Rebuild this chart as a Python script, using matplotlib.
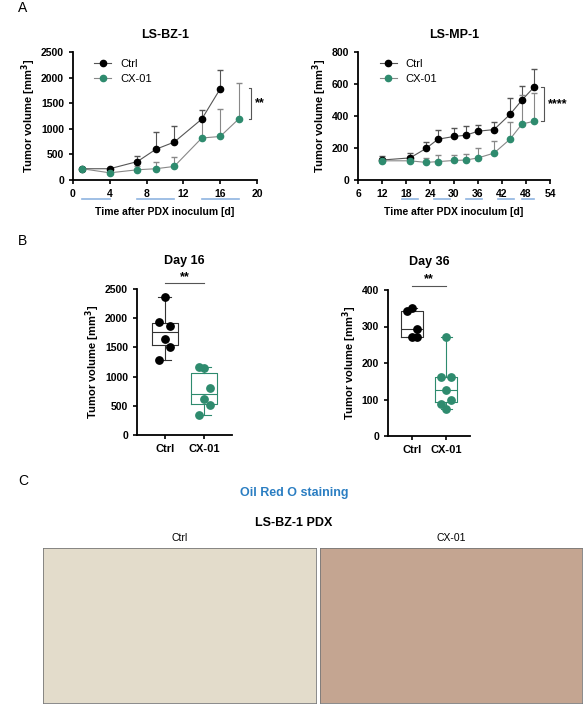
import matplotlib
matplotlib.use("Agg")
import matplotlib.pyplot as plt
import numpy as np
from matplotlib.transforms import blended_transform_factory as btf
from matplotlib.lines import Line2D

plt.rcParams['font.family'] = ['Liberation Sans', 'DejaVu Sans']
GREEN = '#2e8b6e'

# Panel A left (LS-BZ-1)
bz_days_ctrl = [1, 4, 7, 9, 11, 14, 16]
bz_ctrl = [220, 220, 360, 600, 740, 1190, 1780]
bz_ctrl_err = [0, 0, 100, 330, 310, 180, 370]
bz_days_cx = [1, 4, 7, 9, 11, 14, 16, 18]
bz_cx = [220, 140, 200, 220, 265, 820, 850, 1190]
bz_cx_err = [0, 60, 80, 130, 180, 390, 530, 710]
bz_treat = [(1, 4), (7, 11), (14, 18)]

# Panel A right (LS-MP-1)
mp_days = [12, 19, 23, 26, 30, 33, 36, 40, 44, 47, 50]
mp_ctrl = [125, 138, 197, 255, 272, 280, 305, 315, 410, 500, 580]
mp_ctrl_err = [25, 30, 40, 60, 55, 55, 40, 50, 100, 90, 115]
mp_cx = [120, 120, 110, 115, 122, 125, 138, 168, 255, 350, 367]
mp_cx_err = [20, 30, 30, 40, 35, 40, 65, 75, 105, 180, 175]
mp_treat = [(17, 21), (25, 29), (33, 37), (41, 45), (47, 50)]

# Panel B
d16_ctrl = [2360, 1940, 1870, 1650, 1510, 1290]
d16_cx = [1150, 1170, 800, 610, 510, 350]
d36_ctrl = [352, 342, 293, 270, 270]
d36_cx = [270, 162, 162, 125, 100, 88, 75]
groups = ['Ctrl', 'CX-01']

W, H = 588, 709
fig = plt.figure(figsize=(W/100, H/100), dpi=100)

def ax_px(x0, y0, x1, y1):
    return fig.add_axes([x0/W, 1-y1/H, (x1-x0)/W, (y1-y0)/H])

def style(ax):
    for s in ['top', 'right']:
        ax.spines[s].set_visible(False)
    for s in ['left', 'bottom']:
        ax.spines[s].set_linewidth(1.3)
    ax.tick_params(labelsize=7.5, width=1.2, length=3)
    for l in ax.get_xticklabels() + ax.get_yticklabels():
        l.set_fontweight('bold')

def line_panel(ax, dc, c, ce, dx, x, xe, treat, xlim, xticks, ylim, yticks, title, star, sy):
    ax.errorbar(dc, c, yerr=[np.zeros(len(ce)), ce], color='#555555', lw=0.8, capsize=2.5, elinewidth=0.8,
                marker='o', mfc='black', mec='black', ms=4.5, zorder=3)
    ax.errorbar(dx, x, yerr=[np.zeros(len(xe)), xe], color='#888888', lw=0.8, capsize=2.5, elinewidth=0.8,
                marker='o', mfc=GREEN, mec=GREEN, ms=4.5, zorder=3)
    ax.set_xlim(*xlim); ax.set_xticks(xticks)
    ax.set_ylim(*ylim); ax.set_yticks(yticks)
    style(ax)
    ax.set_title(title, fontsize=9, fontweight='bold', pad=10)
    ax.set_ylabel('Tumor volume [mm$^\\mathbf{3}$]', fontsize=8, fontweight='bold', labelpad=2)
    ax.set_xlabel('Time after PDX inoculum [d]', fontsize=7.5, fontweight='bold', labelpad=6)
    tr = btf(ax.transData, ax.transAxes)
    for a, b in treat:
        ax.plot([a, b], [-0.15, -0.15], transform=tr, color='#8fb4e0', lw=1.2, clip_on=False)
    handles = [Line2D([], [], color='#555555', lw=0.8, marker='o', mfc='black', mec='black', ms=4.5),
               Line2D([], [], color='#888888', lw=0.8, marker='o', mfc=GREEN, mec=GREEN, ms=4.5)]
    ax.legend(handles, groups, loc='upper left', frameon=False, fontsize=8, handlelength=1.5,
              borderaxespad=0.2, bbox_to_anchor=(0.08, 1.0))
    xs = xlim[1] - (xlim[1]-xlim[0])*0.03
    y1, y2 = sy
    d = (xlim[1]-xlim[0])*0.015
    ax.plot([xs-d, xs, xs, xs-d], [y1, y1, y2, y2], color='#555555', lw=0.8, clip_on=False)
    ax.text(xs+(xlim[1]-xlim[0])*0.02, (y1+y2)/2, star, fontsize=9, fontweight='bold', va='center')

fig.text(18/W, 1-12/H, 'A', fontsize=10)
fig.text(18/W, 1-245/H, 'B', fontsize=10)
fig.text(18/W, 1-485/H, 'C', fontsize=10)

a1 = ax_px(73, 52, 257, 180)
line_panel(a1, bz_days_ctrl, bz_ctrl, bz_ctrl_err, bz_days_cx, bz_cx, bz_cx_err, bz_treat,
           (0, 20), [0, 4, 8, 12, 16, 20], (0, 2500), [0, 500, 1000, 1500, 2000, 2500], 'LS-BZ-1', '**', (1200, 1790))
a2 = ax_px(358, 52, 550, 180)
line_panel(a2, mp_days, mp_ctrl, mp_ctrl_err, mp_days, mp_cx, mp_cx_err, mp_treat,
           (6, 54), [6, 12, 18, 24, 30, 36, 42, 48, 54], (0, 800), [0, 200, 400, 600, 800], 'LS-MP-1', '****', (370, 580))

def box_panel(ax, ctrl, cx, ylim, yticks, title, sig_y):
    for i, (vals, col) in enumerate([(ctrl, 'black'), (cx, GREEN)]):
        lc = col if i else '#333333'
        ax.boxplot([vals], positions=[i], widths=0.65, whis=(0, 100), showcaps=True,
                   boxprops=dict(color=lc, lw=0.8), medianprops=dict(color=lc, lw=0.8),
                   whiskerprops=dict(color=lc, lw=0.8), capprops=dict(color=lc, lw=0.8),
                   manage_ticks=False)
        n = len(vals)
        offs = np.array([(-1)**k * 0.14 * ((k % 3) > 0) for k in range(n)])
        ax.scatter(i + offs, vals, s=28, color=col, zorder=3)
    ax.set_xlim(-0.7, 1.7)
    ax.set_xticks([0, 1]); ax.set_xticklabels(groups)
    ax.set_ylim(*ylim); ax.set_yticks(yticks)
    style(ax)
    ax.tick_params(axis='x', labelsize=8)
    ax.set_title(title, fontsize=9, fontweight='bold', pad=18)
    ax.set_ylabel('Tumor volume [mm$^\\mathbf{3}$]', fontsize=8, fontweight='bold', labelpad=2)
    ax.plot([0, 1], [sig_y, sig_y], color='#555555', lw=0.8, clip_on=False)
    ax.text(0.5, sig_y, '**', ha='center', va='bottom', fontsize=9, fontweight='bold')

b1 = ax_px(137, 289, 232, 435)
box_panel(b1, d16_ctrl, d16_cx, (0, 2500), [0, 500, 1000, 1500, 2000, 2500], 'Day 16', 2600)
b2 = ax_px(388, 290, 470, 436)
box_panel(b2, d36_ctrl, d36_cx, (0, 400), [0, 100, 200, 300, 400], 'Day 36', 412)

fig.text(0.5, 1-493/H, 'Oil Red O staining', color='#2b7ec2', fontsize=9, fontweight='bold', ha='center', va='center')
fig.text(0.5, 1-523/H, 'LS-BZ-1 PDX', fontsize=9, fontweight='bold', ha='center', va='center')
for (x0, x1, lab, col) in [(43, 316, 'Ctrl', '#e3dccb'), (320, 582, 'CX-01', '#c4a591')]:
    ax = ax_px(x0, 548, x1, 703)
    ax.set_facecolor(col)
    ax.set_xticks([]); ax.set_yticks([])
    for s in ax.spines.values():
        s.set_color('#777777'); s.set_linewidth(0.6)
    ax.set_title(lab, fontsize=7.5, pad=5)

fig.savefig('out.png', dpi=100, facecolor='white')
